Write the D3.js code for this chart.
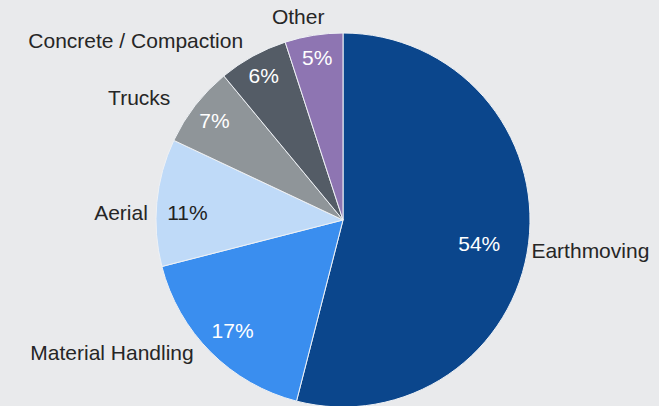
<!DOCTYPE html>
<html>
<head>
<meta charset="utf-8">
<script src="https://cdn.jsdelivr.net/npm/d3@7"></script>
<style>
    body { margin: 0; background: #e9eaec; }
    svg { display: block; font-family: "Liberation Sans", Arial, sans-serif; }
</style>
</head>
<body>
<div id="chart"></div>
<script>
// data
var categories = ["Earthmoving", "Material Handling", "Aerial", "Trucks", "Concrete / Compaction", "Other"];
var shares = [54, 17, 11, 7, 6, 5];

// styles
var colors = ["#0b468c", "#3a8eef", "#bfdaf8", "#8f9599", "#545c66", "#8e75b2"];
var pctColors = ["#fff", "#fff", "#222", "#fff", "#fff", "#fff"];
var pctRadius = [0.74, 0.835, 0.83, 0.87, 0.88, 0.88];
var pctNudge = [[-1, 6], [0, 0], [-1, 7], [0, 0], [0, 0], [0, 0]];
var nameNudge = [[-7, 4], [-10, -16], [1, 12], [-17, 6], [-5, 4], [-14, 3]];

var width = 659, height = 406,
    cx = 343, cy = 220, radius = 187,
    fontSize = 21;

var svg = d3.select("#chart")
    .append("svg")
    .attr("width", width)
    .attr("height", height);

svg.append("rect")
    .attr("width", width)
    .attr("height", height)
    .attr("fill", "#e9eaec");

var data = categories.map(function (c, i) {
    return {name: c, value: shares[i], i: i};
});

var pie = d3.pie()
    .value(function (d) { return d.value; })
    .sort(null);

var arc = d3.arc()
    .innerRadius(0)
    .outerRadius(radius);

var arcs = pie(data);

var g = svg.append("g")
    .attr("transform", "translate(" + cx + "," + cy + ")");

g.selectAll("path")
    .data(arcs)
    .enter()
    .append("path")
    .attr("d", arc)
    .attr("fill", function (d) { return colors[d.data.i]; })
    .attr("stroke", "#eef1f5")
    .attr("stroke-width", 1);

function midAngle(d) {
    return (d.startAngle + d.endAngle) / 2;
}

// percentage labels inside the slices
g.selectAll(".pct")
    .data(arcs)
    .enter()
    .append("text")
    .attr("class", "pct")
    .attr("text-anchor", "middle")
    .attr("font-size", fontSize)
    .attr("fill", function (d) { return pctColors[d.data.i]; })
    .attr("x", function (d) {
        var r = radius * pctRadius[d.data.i];
        return r * Math.sin(midAngle(d)) + pctNudge[d.data.i][0];
    })
    .attr("y", function (d) {
        var r = radius * pctRadius[d.data.i];
        return -r * Math.cos(midAngle(d)) + pctNudge[d.data.i][1] + fontSize * 0.358;
    })
    .text(function (d) { return d.data.value + "%"; });

// category names outside the pie
var names = g.selectAll(".name")
    .data(arcs)
    .enter()
    .append("text")
    .attr("class", "name")
    .attr("font-size", fontSize)
    .attr("fill", "#262626")
    .attr("text-anchor", "middle")
    .text(function (d) { return d.data.name; });

names.each(function (d) {
    var t = d3.select(this),
        w = this.getComputedTextLength(),
        h = fontSize * 1.2,
        a = midAngle(d),
        sx = Math.sin(a), sy = -Math.cos(a),
        px = (radius + 10) * sx,
        py = (radius + 10) * sy;
    var x = Math.abs(sx) < 0.3 ? px : px + (sx > 0 ? w / 2 : -w / 2);
    var y = py + sy * h / 2;
    t.attr("x", x + nameNudge[d.data.i][0])
        .attr("y", y + nameNudge[d.data.i][1] + fontSize * 0.358);
});
</script>
</body>
</html>
